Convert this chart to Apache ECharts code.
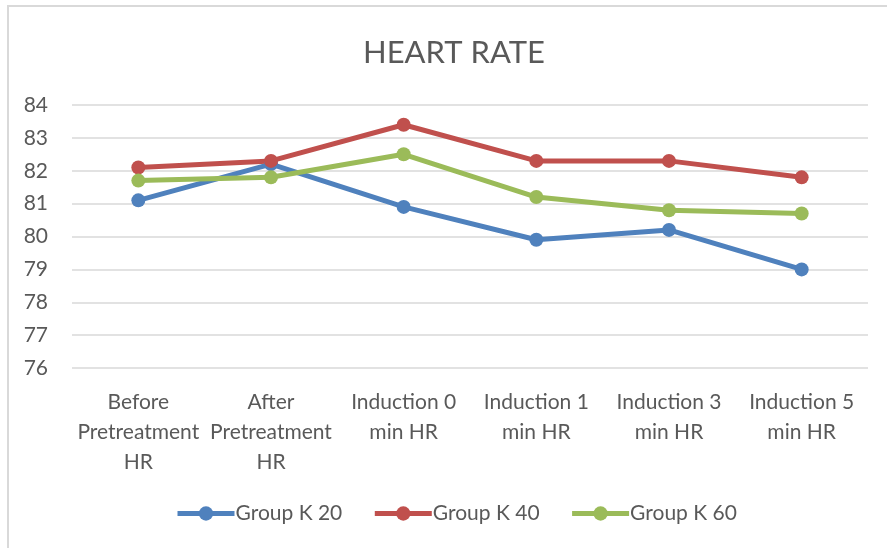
<!DOCTYPE html>
<html>
<head>
<meta charset="utf-8">
<script src="https://cdn.jsdelivr.net/npm/echarts@6/dist/echarts.min.js"></script>
<style>
  html, body { margin: 0; padding: 0; background: #fff; }
  #chart { width: 887px; height: 548px; }
</style>
</head>
<body>
<div id="chart"></div>
<script>
// 横轴分类
const categories = [
  'Before\nPretreatment\nHR',
  'After\nPretreatment\nHR',
  'Induction 0\nmin HR',
  'Induction 1\nmin HR',
  'Induction 3\nmin HR',
  'Induction 5\nmin HR'
]
// 各组心率数据
const groupK20 = [81.1, 82.2, 80.9, 79.9, 80.2, 79.0]
const groupK40 = [82.1, 82.3, 83.4, 82.3, 82.3, 81.8]
const groupK60 = [81.7, 81.8, 82.5, 81.2, 80.8, 80.7]
const seriesNames = ['Group K 20', 'Group K 40', 'Group K 60']
const colors = ['#4F81BD', '#C0504D', '#9BBB59']

const font = 'Lato, "Open Sans", sans-serif'
const chart = echarts.init(document.getElementById('chart'))

const makeSeries = (name, data, color) => ({
  name,
  type: 'line',
  data,
  symbol: 'circle',
  symbolSize: 14,
  itemStyle: { color },
  lineStyle: { width: 5, color },
  animation: false
})

chart.setOption({
  animation: false,
  // 外框（只露出左边和上边）
  graphic: [{
    type: 'rect',
    shape: { x: 8, y: 6, width: 1000, height: 700 },
    style: { fill: 'none', stroke: '#d9d9d9', lineWidth: 2 },
    silent: true
  }],
  title: {
    text: 'HEART RATE',
    left: 358,
    top: 32,
    textStyle: { fontFamily: font, fontWeight: 'normal', fontSize: 31, color: '#595959' }
  },
  legend: {
    bottom: 19,
    left: 170,
    itemWidth: 57,
    itemHeight: 18,
    itemGap: 30,
    lineStyle: { width: 5 },
    textStyle: { fontFamily: font, fontSize: 21, color: '#595959', padding: [0, 0, 0, -4] },
    data: seriesNames
  },
  grid: { left: 72, right: 19, top: 105, bottom: 180 },
  xAxis: {
    type: 'category',
    data: categories,
    axisLine: { show: false },
    axisTick: { show: false },
    axisLabel: {
      interval: 0,
      margin: 19,
      fontFamily: font,
      fontSize: 21,
      lineHeight: 30,
      color: '#595959'
    }
  },
  yAxis: {
    type: 'value',
    min: 76,
    max: 84,
    interval: 1,
    axisLine: { show: false },
    axisTick: { show: false },
    axisLabel: { fontFamily: font, fontSize: 21, color: '#595959', margin: 24 },
    splitLine: { lineStyle: { color: '#d9d9d9', width: 1.5 } }
  },
  series: [
    makeSeries(seriesNames[0], groupK20, colors[0]),
    makeSeries(seriesNames[1], groupK40, colors[1]),
    makeSeries(seriesNames[2], groupK60, colors[2])
  ]
})
</script>
</body>
</html>
